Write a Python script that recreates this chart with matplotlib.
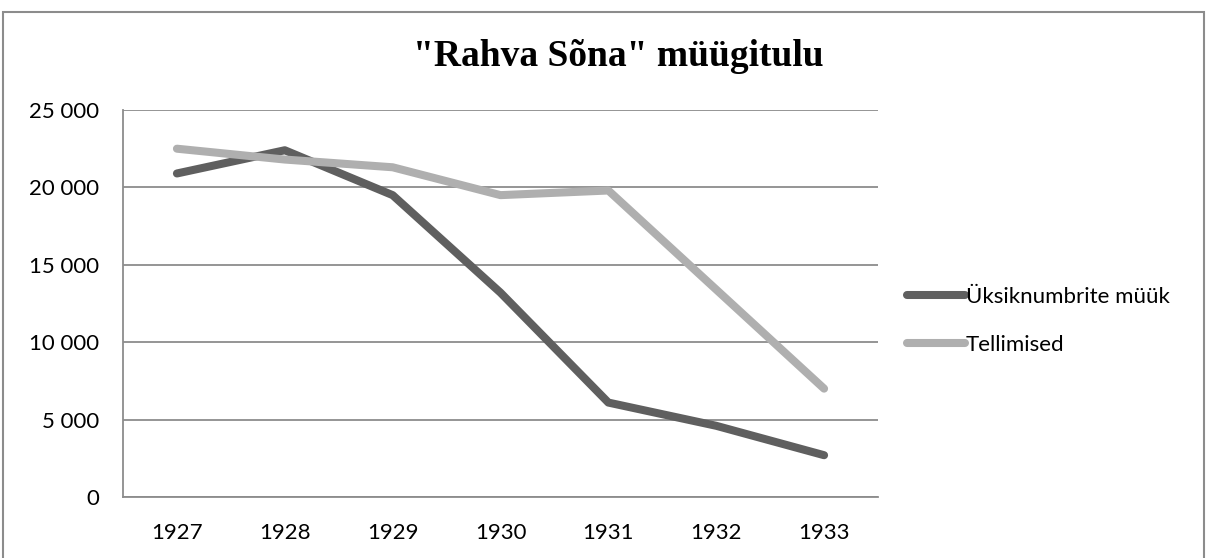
import matplotlib
matplotlib.use("Agg")
import matplotlib.pyplot as plt
from matplotlib.patches import Rectangle
from matplotlib.ticker import FuncFormatter

years = ["1927", "1928", "1929", "1930", "1931", "1932", "1933"]
single_sales = [20900, 22400, 19500, 13200, 6100, 4600, 2700]
subscriptions = [22500, 21800, 21300, 19500, 19800, 13400, 7000]
y_ticks = [0, 5000, 10000, 15000, 20000, 25000]

plt.rcParams["font.family"] = ["Lato", "DejaVu Sans"]

fig = plt.figure(figsize=(12.08, 5.58), dpi=100)
ax = fig.add_axes([123 / 1208, 1 - 497 / 558, 755 / 1208, 387 / 558])

# outer chart frame
fig.patches.append(Rectangle((3 / 1208, -0.05), 1201 / 1208, 1.05 - 12 / 558,
                             transform=fig.transFigure, fill=False,
                             edgecolor="#8c8c8c", linewidth=1.5))

x = range(len(years))
ax.plot(x, single_sales, color="#5f5f5f", linewidth=5.8,
        solid_capstyle="round", solid_joinstyle="round", label="Üksiknumbrite müük")
ax.plot(x, subscriptions, color="#afafaf", linewidth=5.8,
        solid_capstyle="round", solid_joinstyle="round", label="Tellimised")

ax.set_xlim(-0.5, len(years) - 0.5)
ax.set_ylim(0, 25000)
ax.set_xticks(list(x))
ax.set_xticklabels(years)
ax.set_yticks(y_ticks)
ax.yaxis.set_major_formatter(FuncFormatter(lambda v, p: f"{int(v):,}".replace(",", " ")))
ax.tick_params(length=0, labelsize=16, colors="black")
ax.tick_params(axis="y", pad=17)
ax.tick_params(axis="x", pad=19)

ax.grid(axis="y", color="#8c8c8c", linewidth=1.3)
ax.set_axisbelow(True)
for side in ["top", "right"]:
    ax.spines[side].set_visible(False)
for side in ["left", "bottom"]:
    ax.spines[side].set_color("#8c8c8c")
    ax.spines[side].set_linewidth(1.3)

fig.text(618 / 1208, 1 - 57 / 558, '"Rahva Sõna" müügitulu', ha="center", va="center",
         family="Liberation Serif", fontweight="bold", fontsize=27)

fig.legend(loc="center left", bbox_to_anchor=(887 / 1208, 1 - 321 / 558),
           frameon=False, fontsize=16, handlelength=2.6, handletextpad=0.05,
           labelspacing=1.25)

fig.savefig("out.png", dpi=100)
